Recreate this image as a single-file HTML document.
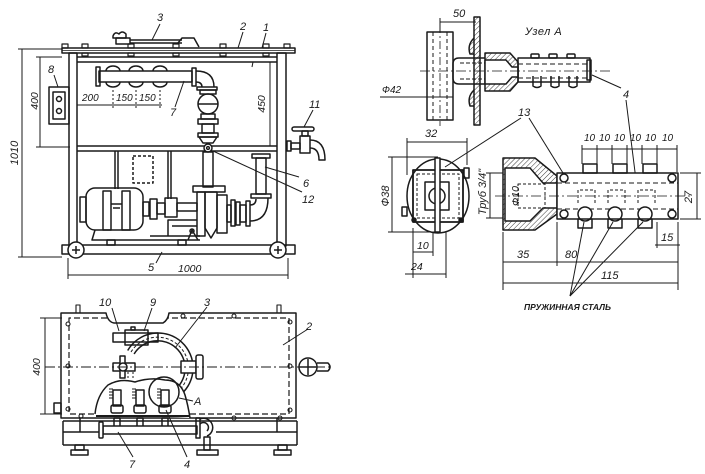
<!DOCTYPE html>
<html><head><meta charset="utf-8">
<style>
html,body{margin:0;padding:0;background:#fff}
svg{display:block}
text{font-family:"Liberation Sans",sans-serif;font-style:italic;fill:#1a1a1a;stroke:none}
</style></head>
<body>
<svg width="705" height="474" viewBox="0 0 705 474" xmlns="http://www.w3.org/2000/svg">
<defs>
<pattern id="h" width="3.5" height="3.5" patternUnits="userSpaceOnUse" patternTransform="rotate(45)">
<line x1="0" y1="0" x2="0" y2="3.5" stroke="#222" stroke-width="0.9"/></pattern>
</defs>
<g fill="none" stroke="#1a1a1a" stroke-width="1.5" stroke-linejoin="round">

<!-- ===== TOP-LEFT ELEVATION ===== -->
<rect x="62" y="48" width="233" height="5"/>
<line x1="62" y1="50.5" x2="295" y2="50.5" stroke-width="0.8"/>
<g stroke-width="1.2">
<rect x="62" y="44" width="6" height="4"/><rect x="82" y="44" width="6" height="4"/>
<rect x="128" y="44" width="6" height="4"/><rect x="173" y="44" width="6" height="4"/>
<rect x="220" y="44" width="6" height="4"/><rect x="263" y="44" width="6" height="4"/>
<rect x="284" y="44" width="6" height="4"/>
<rect x="82" y="53" width="6" height="3"/><rect x="128" y="53" width="6" height="3"/>
<rect x="173" y="53" width="6" height="3"/><rect x="220" y="53" width="6" height="3"/>
<rect x="263" y="53" width="6" height="3"/>
</g>
<path d="M113,36 q2,-5 6,-2 q3,-4 7,0 l0,4 l-13,0 z"/>
<rect x="116" y="38" width="14" height="6"/>
<line x1="130" y1="40" x2="182" y2="40"/>
<line x1="130" y1="43" x2="182" y2="43"/>
<path d="M178,43 l4,-5 l12,0 l5,9"/>
<rect x="69" y="53" width="8" height="193"/>
<rect x="277" y="53" width="9" height="193"/>
<line x1="77" y1="57" x2="277" y2="57"/>
<line x1="77" y1="62" x2="277" y2="62"/>
<line x1="77" y1="146" x2="277" y2="146"/>
<line x1="77" y1="151" x2="277" y2="151"/>
<line x1="270" y1="62" x2="270" y2="146" stroke-width="1"/>
<rect x="62" y="245" width="233" height="9"/>
<circle cx="76" cy="250" r="8" fill="#fff"/>
<line x1="72" y1="250" x2="80" y2="250"/><line x1="76" y1="246" x2="76" y2="254"/>
<circle cx="278" cy="250" r="8" fill="#fff"/>
<line x1="274" y1="250" x2="282" y2="250"/><line x1="278" y1="246" x2="278" y2="254"/>
<rect x="49" y="87" width="20" height="37"/>
<rect x="53" y="92" width="12" height="27"/>
<circle cx="59" cy="99" r="2.5"/><circle cx="59" cy="111" r="2.5"/>
<line x1="54" y1="75" x2="58" y2="87" stroke-width="1"/>
<rect x="99" y="71" width="93" height="11"/>
<rect x="96" y="67" width="4" height="19"/>
<rect x="192" y="68" width="4" height="18"/>
<path d="M106,71 A7,5 0 0 1 120,71 M129,71 A7,5 0 0 1 143,71 M153,71 A7,5 0 0 1 167,71"/>
<path d="M106,82 A7,5 0 0 0 120,82 M129,82 A7,5 0 0 0 143,82 M153,82 A7,5 0 0 0 167,82"/>
<path d="M196,71 Q214,71 214,87 M196,82 Q202,82 202,87"/>
<rect x="197" y="87" width="20" height="3"/>
<circle cx="208" cy="104" r="10"/>
<line x1="198" y1="104" x2="218" y2="104"/>
<rect x="200" y="90" width="16" height="4"/>
<rect x="201" y="114" width="14" height="5"/>
<rect x="198" y="119" width="20" height="5"/>
<rect x="202" y="124" width="12" height="9"/>
<rect x="198" y="133" width="20" height="4"/>
<path d="M199,137 L217,137 L213,143 L203,143 Z"/>
<circle cx="208" cy="148" r="4" fill="#fff"/><circle cx="208" cy="148" r="1.4"/>
<rect x="203" y="152" width="10" height="35"/>
<rect x="133" y="156" width="20" height="27" stroke-dasharray="3 2"/>
<line x1="115" y1="151" x2="115" y2="189"/><line x1="118" y1="151" x2="118" y2="189"/>
<line x1="168" y1="151" x2="168" y2="199"/><line x1="171" y1="151" x2="171" y2="199"/>
<rect x="86" y="188" width="57" height="42" rx="9"/>
<rect x="80" y="197" width="6" height="25"/>
<rect x="103" y="191" width="8" height="39"/>
<rect x="122" y="191" width="8" height="39"/>
<line x1="111" y1="204" x2="122" y2="204"/>
<line x1="113" y1="208" x2="120" y2="208"/>
<rect x="143" y="202" width="6" height="14"/>
<rect x="150" y="199" width="7" height="20"/>
<rect x="157" y="203" width="8" height="11"/>
<rect x="165" y="198" width="12" height="19"/>
<rect x="177" y="203" width="20" height="8"/>
<path d="M168,236 L168,220 L197,220 M172,226 L197,226"/>
<path d="M95,230 L92,240 L200,240 M150,236 L200,236"/>
<path d="M188,240 L192,230 L198,240"/><circle cx="192" cy="231" r="2"/>
<rect x="107" y="240" width="8" height="5"/><rect x="178" y="240" width="8" height="5"/>
<path d="M193,186 L225,186 L225,192 L193,192 Z"/>
<rect x="197" y="192" width="8" height="44"/>
<path d="M205,192 L217,192 L217,228 L211,238 L205,228 Z"/>
<rect x="217" y="195" width="10" height="38"/>
<rect x="227" y="205" width="4" height="17"/>
<rect x="231" y="200" width="4" height="26"/>
<rect x="236" y="202" width="4" height="23"/>
<rect x="240" y="205" width="6" height="17"/>
<rect x="246" y="201" width="4" height="25"/>
<path d="M250,205 Q256,205 256,199 M250,221 Q268,221 268,198"/>
<rect x="256" y="158" width="10" height="36"/>
<rect x="252" y="154" width="18" height="4"/>
<rect x="251" y="194" width="20" height="4"/>
<rect x="287" y="141" width="4" height="10"/>
<rect x="291" y="143" width="9" height="6"/>
<rect x="300" y="136" width="10" height="17"/>
<rect x="302" y="131" width="6" height="5"/>
<rect x="292" y="127" width="22" height="4" rx="2"/>
<path d="M310,140 Q325,140 325,160 L319,160 Q319,148 310,148"/>
<g stroke-width="1">
<line x1="160" y1="24" x2="152" y2="40"/>
<line x1="243" y1="32" x2="238" y2="48"/>
<line x1="266" y1="33" x2="262" y2="48"/>
<line x1="253" y1="62" x2="252" y2="67"/>
<line x1="175" y1="107" x2="184" y2="81"/>
<line x1="313" y1="110" x2="304" y2="127"/>
<line x1="213" y1="151" x2="302" y2="192"/>
<line x1="265" y1="167" x2="299" y2="177"/>
<line x1="156" y1="263" x2="162" y2="252"/>
<line x1="40" y1="57" x2="40" y2="147"/>
<line x1="36" y1="57" x2="62" y2="57"/>
<line x1="36" y1="147" x2="70" y2="147"/>
<line x1="22" y1="49" x2="22" y2="257"/>
<line x1="18" y1="49" x2="62" y2="49"/>
<line x1="18" y1="257" x2="62" y2="257"/>
<line x1="68" y1="275" x2="288" y2="275"/>
<line x1="68" y1="258" x2="68" y2="279"/>
<line x1="288" y1="258" x2="288" y2="279"/>
<line x1="77" y1="105" x2="162" y2="105"/>
<line x1="113" y1="90" x2="113" y2="108" stroke-dasharray="2 2"/>
<line x1="136" y1="90" x2="136" y2="108" stroke-dasharray="2 2"/>
<line x1="160" y1="90" x2="160" y2="108" stroke-dasharray="2 2"/>
</g>

<!-- ===== BOTTOM-LEFT PLAN ===== -->
<path d="M61,313 L106,313 Q108,322 114,323 L163,323 Q168,320 169,313 L296,313 L296,418 L61,418 Z"/>
<rect x="54" y="403" width="7" height="10"/>
<path d="M107,318 L69,318 L69,414 L96,414 M190,414 L289,414 L289,318 L168,318" stroke-dasharray="6 3" stroke-width="1.2"/>
<g stroke-width="1.1">
<circle cx="68" cy="324" r="2"/><circle cx="68" cy="366" r="2"/><circle cx="68" cy="409" r="2"/>
<circle cx="183" cy="316" r="2"/><circle cx="234" cy="316" r="2"/><circle cx="290" cy="322" r="2"/>
<circle cx="290" cy="366" r="2"/><circle cx="290" cy="410" r="2"/><circle cx="234" cy="418" r="2"/>
<circle cx="280" cy="418" r="2"/><circle cx="81" cy="416" r="2"/>
<rect x="76" y="305" width="4" height="8"/><rect x="277" y="305" width="4" height="8"/>
</g>
<rect x="113" y="333" width="45" height="9"/>
<rect x="125" y="330" width="23" height="15"/>
<rect x="131" y="327" width="4" height="3"/>
<path d="M127.7,350.5 A35,35 0 1 1 178,396.7"/>
<path d="M134.1,354 A27.5,27.5 0 1 1 173.8,390.5"/>
<path d="M131,352 A31,31 0 1 1 176,393" stroke-dasharray="3 2" stroke-width="1"/>
<path d="M128,372 L128,382 M133,372 L133,380" stroke-dasharray="2 2" stroke-width="1"/>
<rect x="113" y="363" width="22" height="8" fill="#fff"/>
<rect x="120" y="356" width="5" height="22" fill="#fff"/>
<circle cx="123" cy="367" r="4" fill="#fff"/>
<rect x="181" y="361" width="15" height="12" fill="#fff"/>
<rect x="196" y="355" width="7" height="24" rx="2" fill="#fff"/>
<path d="M95,414 Q97,395 108,385 Q120,378 135,382 Q150,377 165,380 Q180,380 185,395 Q188,405 190,418" fill="#fff"/>
<line x1="96" y1="416" x2="190" y2="416" stroke-width="2"/>
<g stroke-width="1.1">
<path d="M109,389 h4 M109,392 h4 M109,395 h4 M109,398 h4 M132,389 h4 M132,392 h4 M132,395 h4 M132,398 h4 M157,389 h4 M157,392 h4 M157,395 h4 M157,398 h4"/>
</g>
<rect x="113" y="390" width="8" height="16"/><rect x="111" y="405" width="12" height="8" rx="2"/>
<rect x="136" y="390" width="8" height="16"/><rect x="134" y="405" width="12" height="8" rx="2"/>
<rect x="161" y="390" width="8" height="16"/><rect x="159" y="405" width="12" height="8" rx="2"/>
<circle cx="164" cy="392" r="15"/>
<line x1="63" y1="421" x2="297" y2="421"/>
<line x1="63" y1="445" x2="297" y2="445"/>
<line x1="63" y1="421" x2="63" y2="445"/><line x1="297" y1="421" x2="297" y2="445"/>
<line x1="63" y1="432" x2="99" y2="432"/><line x1="216" y1="432" x2="297" y2="432"/>
<line x1="80" y1="418" x2="80" y2="432"/><line x1="277" y1="418" x2="277" y2="432"/>
<rect x="114" y="418" width="6" height="12"/><rect x="137" y="418" width="6" height="12"/><rect x="162" y="418" width="6" height="12"/>
<rect x="103" y="426" width="94" height="8" fill="#fff"/>
<rect x="99" y="422" width="4" height="16" rx="1" fill="#fff"/>
<rect x="196" y="418" width="4" height="20"/>
<path d="M200,419 A9,9 0 1 1 207,436 M200,424 A4.5,4.5 0 1 1 207,431"/>
<rect x="204" y="437" width="6" height="13"/>
<rect x="197" y="450" width="21" height="5"/>
<rect x="75" y="445" width="9" height="5"/><rect x="71" y="450" width="17" height="5"/>
<rect x="278" y="445" width="9" height="5"/><rect x="274" y="450" width="17" height="5"/>
<circle cx="308" cy="367" r="9" fill="#fff"/>
<line x1="300" y1="367" x2="316" y2="367"/><line x1="308" y1="359" x2="308" y2="375"/>
<path d="M317,363 L328,363 Q332,367 328,371 L317,371"/>
<line x1="45" y1="367" x2="333" y2="367" stroke-dasharray="10 3 2 3" stroke-width="0.9"/>
<g stroke-width="1">
<line x1="45" y1="318" x2="45" y2="414"/>
<line x1="40" y1="318" x2="62" y2="318"/>
<line x1="40" y1="414" x2="62" y2="414"/>
<line x1="112" y1="308" x2="119" y2="331"/>
<line x1="152" y1="308" x2="144" y2="331"/>
<line x1="207" y1="307" x2="175" y2="348"/>
<line x1="308" y1="329" x2="283" y2="345"/>
<line x1="193" y1="401" x2="179" y2="398"/>
<line x1="133" y1="457" x2="118" y2="432"/>
<line x1="187" y1="457" x2="166" y2="410"/>
</g>

<!-- ===== TOP-RIGHT NODE A ===== -->
<rect x="427" y="32" width="26" height="88"/>
<line x1="433" y1="32" x2="433" y2="120" stroke-dasharray="4 3" stroke-width="1"/>
<line x1="447" y1="32" x2="447" y2="120" stroke-dasharray="4 3" stroke-width="1"/>
<line x1="440" y1="25" x2="440" y2="126" stroke-dasharray="8 3 2 3" stroke-width="0.8"/>
<rect x="474" y="17" width="6" height="108" fill="url(#h)"/>
<path d="M474,38 Q467,45 470,54 L474,54 M474,90 Q467,97 470,106 L474,106" fill="url(#h)"/>
<path d="M485,58 L459,58 Q453,58 453,64 L453,78 Q453,84 459,84 L485,84"/>
<line x1="460" y1="63" x2="485" y2="63" stroke-dasharray="4 2" stroke-width="1"/>
<line x1="460" y1="79" x2="485" y2="79" stroke-dasharray="4 2" stroke-width="1"/>
<path d="M485,53 L510,53 L518,62 L518,82 L510,91 L485,91 Z" fill="url(#h)"/>
<path d="M485,60 L506,60 L512,67 L518,67 L518,77 L512,77 L506,84 L485,84 Z" fill="#fff"/>
<rect x="518" y="58" width="72" height="24"/>
<line x1="518" y1="64" x2="588" y2="64" stroke-dasharray="5 3" stroke-width="1"/>
<line x1="518" y1="78" x2="588" y2="78" stroke-dasharray="5 3" stroke-width="1"/>
<rect x="531" y="54" width="8" height="4" rx="1"/><rect x="549" y="54" width="8" height="4" rx="1"/><rect x="567" y="54" width="8" height="4" rx="1"/>
<path d="M533,76 L533,86 Q537,89 541,86 L541,76 M551,76 L551,86 Q555,89 559,86 L559,76 M569,76 L569,86 Q573,89 577,86 L577,76"/>
<rect x="587" y="60" width="4" height="20"/>
<line x1="420" y1="71" x2="610" y2="71" stroke-dasharray="10 3 2 3" stroke-width="0.8"/>
<g stroke-width="1">
<line x1="440" y1="22" x2="476" y2="22"/>
<line x1="440" y1="18" x2="440" y2="32"/>
<line x1="380" y1="97" x2="453" y2="97"/>
<polyline points="592,75 621,88"/>
<line x1="626" y1="100" x2="636" y2="180"/>
<line x1="521" y1="118" x2="445" y2="167"/>
<line x1="529" y1="118" x2="563" y2="173"/>
</g>

<ellipse cx="438" cy="196" rx="31" ry="37"/>
<rect x="413" y="170" width="50" height="52" stroke-width="1.8"/>
<rect x="417" y="174" width="42" height="44" stroke-dasharray="3 2" stroke-width="1"/>
<rect x="425" y="182" width="24" height="28"/>
<circle cx="437" cy="196" r="8"/>
<rect x="435" y="158" width="5" height="74" fill="#fff"/>
<circle cx="414" cy="220" r="2" fill="#1a1a1a"/><circle cx="461" cy="220" r="2" fill="#1a1a1a"/>
<rect x="464" y="168" width="5" height="10"/><rect x="402" y="207" width="5" height="9"/>
<g stroke-width="1">
<line x1="407" y1="142" x2="467" y2="142"/>
<line x1="407" y1="138" x2="407" y2="175"/>
<line x1="467" y1="138" x2="467" y2="165"/>
<line x1="392" y1="157" x2="392" y2="232"/>
<line x1="388" y1="157" x2="438" y2="157"/>
<line x1="388" y1="232" x2="438" y2="232"/>
<line x1="413" y1="228" x2="413" y2="278"/>
<line x1="433" y1="232" x2="433" y2="256"/>
<line x1="446" y1="232" x2="446" y2="278"/>
<line x1="413" y1="252" x2="433" y2="252"/>
<line x1="405" y1="274" x2="446" y2="274"/>
<line x1="490" y1="173" x2="490" y2="218"/>
<line x1="486" y1="173" x2="503" y2="173"/>
<line x1="486" y1="218" x2="503" y2="218"/>
</g>

<path d="M503,158 L535,158 L557,176 L557,214 L535,230 L503,230 Z" fill="url(#h)"/>
<path d="M505,168 L530,168 L543,183 L557,183 L557,208 L543,208 L530,221 L505,221 Z" fill="#fff"/>
<rect x="518" y="184" width="27" height="24" stroke-dasharray="3 2" stroke-width="1"/>
<rect x="557" y="173" width="121" height="46" fill="#fff"/>
<line x1="557" y1="183" x2="678" y2="183" stroke-dasharray="5 3" stroke-width="1"/>
<line x1="557" y1="209" x2="678" y2="209" stroke-dasharray="5 3" stroke-width="1"/>
<circle cx="564" cy="178" r="4"/><circle cx="672" cy="178" r="4"/>
<circle cx="564" cy="214" r="4"/><circle cx="672" cy="214" r="4"/>
<rect x="583" y="164" width="14" height="9"/><rect x="613" y="164" width="14" height="9"/><rect x="643" y="164" width="14" height="9"/>
<circle cx="585" cy="214" r="7" fill="#fff"/><circle cx="615" cy="214" r="7" fill="#fff"/><circle cx="645" cy="214" r="7" fill="#fff"/>
<rect x="578" y="219" width="14" height="9"/><rect x="608" y="219" width="14" height="9"/><rect x="638" y="219" width="14" height="9"/>
<g stroke-dasharray="3 2" stroke-width="1">
<path d="M578,203 L578,190 L595,190 L595,203"/>
<path d="M608,203 L608,190 L625,190 L625,203"/>
<path d="M638,203 L638,190 L655,190 L655,203"/>
</g>
<line x1="495" y1="196" x2="692" y2="196" stroke-dasharray="10 3 2 3" stroke-width="0.8"/>
<g stroke-width="1">
<line x1="582" y1="149" x2="677" y2="149"/>
<line x1="582" y1="145" x2="582" y2="164"/><line x1="597" y1="145" x2="597" y2="164"/>
<line x1="612" y1="145" x2="612" y2="164"/><line x1="627" y1="145" x2="627" y2="164"/>
<line x1="642" y1="145" x2="642" y2="164"/><line x1="657" y1="145" x2="657" y2="164"/>
<line x1="677" y1="145" x2="677" y2="172"/>
<line x1="697" y1="173" x2="697" y2="219"/>
<line x1="680" y1="173" x2="701" y2="173"/>
<line x1="680" y1="219" x2="701" y2="219"/>
<line x1="655" y1="245" x2="680" y2="245"/>
<line x1="657" y1="222" x2="657" y2="248"/>
<line x1="503" y1="232" x2="503" y2="290"/>
<line x1="557" y1="222" x2="557" y2="266"/>
<line x1="678" y1="222" x2="678" y2="290"/>
<line x1="503" y1="262" x2="678" y2="262"/>
<line x1="503" y1="283" x2="678" y2="283"/>
<line x1="570" y1="296" x2="584" y2="222"/>
<line x1="570" y1="296" x2="613" y2="222"/>
<line x1="570" y1="296" x2="643" y2="222"/>
</g>
</g>

<!-- ===== TEXT ===== -->
<g font-size="11">
<text x="157" y="21">3</text>
<text x="240" y="30">2</text>
<text x="263" y="31">1</text>
<text x="48" y="73">8</text>
<text x="309" y="108">11</text>
<text x="170" y="116">7</text>
<text x="303" y="187">6</text>
<text x="302" y="203">12</text>
<text x="148" y="271">5</text>
<text x="178" y="272" font-size="10.5">1000</text>
<text x="82" y="101" font-size="10">200</text>
<text x="116" y="101" font-size="10">150</text>
<text x="139" y="101" font-size="10">150</text>
<text transform="translate(38,101) rotate(-90)" text-anchor="middle" font-size="10.5">400</text>
<text transform="translate(18,153) rotate(-90)" text-anchor="middle">1010</text>
<text transform="translate(265,104) rotate(-90)" text-anchor="middle" font-size="10.5">450</text>

<text x="99" y="306">10</text>
<text x="150" y="306">9</text>
<text x="204" y="306">3</text>
<text x="306" y="330">2</text>
<text x="194" y="405">A</text>
<text x="129" y="468">7</text>
<text x="184" y="468">4</text>
<text transform="translate(40,367) rotate(-90)" text-anchor="middle" font-size="10.5">400</text>

<text x="453" y="17">50</text>
<text x="525" y="35" letter-spacing="0.5">Узел  А</text>
<text x="382" y="93" font-size="10">Ф42</text>
<text x="623" y="98">4</text>
<text x="518" y="116">13</text>
<text x="425" y="137">32</text>
<text transform="translate(389,196) rotate(-90)" text-anchor="middle">Ф38</text>
<text x="417" y="249" font-size="10.5">10</text>
<text x="411" y="270" font-size="10.5">24</text>
<text transform="translate(486,192) rotate(-90)" text-anchor="middle">Труб 3/4"</text>
<text transform="translate(519,196) rotate(-90)" text-anchor="middle" font-size="10.5">Ф10</text>
<g font-size="10">
<text x="584" y="141">10</text><text x="599" y="141">10</text><text x="614" y="141">10</text>
<text x="630" y="141">10</text><text x="645" y="141">10</text><text x="662" y="141">10</text>
</g>
<text transform="translate(692,197) rotate(-90)" text-anchor="middle">27</text>
<text x="661" y="241">15</text>
<text x="517" y="258">35</text>
<text x="565" y="258">80</text>
<text x="601" y="279">115</text>
<text x="524" y="310" font-size="8.5" font-weight="bold" font-style="normal">ПРУЖИННАЯ СТАЛЬ</text>
</g>
</svg>
</body></html>
